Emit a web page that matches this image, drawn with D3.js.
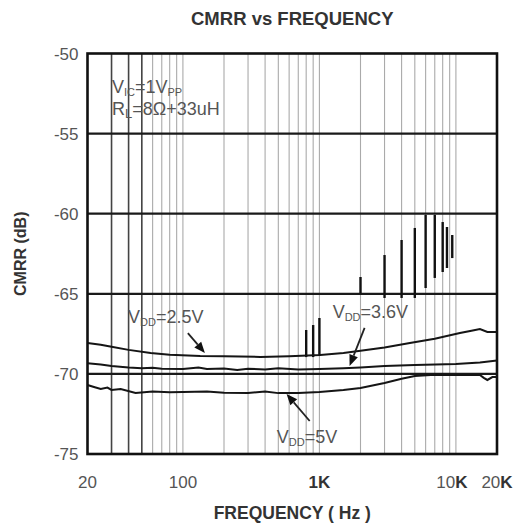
<!DOCTYPE html>
<html>
<head>
<meta charset="utf-8">
<script src="https://cdn.jsdelivr.net/npm/d3@7"></script>
<style>
  html, body { margin: 0; padding: 0; background: #fff; }
  svg { display: block; font-family: "Liberation Sans", Arial, sans-serif; }
</style>
</head>
<body>
<svg id="chart" width="518" height="530"></svg>
<script>
// ---- data ----
const xDomain = [20, 20000];
const yDomain = [-75, -50];
const xTickValues = [20, 100, 1000, 10000, 20000];
const xTickNums = ["20", "100", "1", "10", "20"];
const xTickSuffix = ["", "", "K", "K", "K"];
const yTickValues = [-50, -55, -60, -65, -70, -75];
const yGridValues = [-55, -60, -65, -70];
const darkGridFreqs = [30, 40, 50];

const vdd25 = [[20,-68.07],[25,-68.18],[30,-68.3],[40,-68.5],[58,-68.7],[80,-68.8],[134,-68.88],[200,-68.9],[369,-68.94],[600,-68.9],[1013,-68.82],[1500,-68.7],[2000,-68.55],[3000,-68.35],[4600,-68.07],[7000,-67.8],[10700,-67.45],[13000,-67.3],[15000,-67.2],[17000,-67.38],[20000,-67.38]];
const vdd36 = [[20,-69.33],[25,-69.42],[30,-69.51],[40,-69.6],[50,-69.64],[60,-69.62],[70,-69.68],[100,-69.7],[130,-69.6],[150,-69.7],[200,-69.66],[250,-69.75],[300,-69.68],[400,-69.72],[500,-69.65],[700,-69.72],[1000,-69.7],[1500,-69.65],[2000,-69.6],[3000,-69.51],[5000,-69.44],[10000,-69.38],[15000,-69.29],[20000,-69.16]];
const vdd5 = [[20,-70.69],[22,-70.8],[25,-70.94],[28,-70.85],[30,-71.0],[35,-70.95],[45,-71.19],[60,-71.1],[80,-71.15],[100,-71.13],[150,-71.1],[200,-71.18],[300,-71.19],[400,-71.1],[500,-71.2],[700,-71.19],[1000,-71.13],[1500,-71.0],[2000,-70.88],[3000,-70.57],[4000,-70.3],[5000,-70.13],[7000,-70.05],[10000,-70.07],[15000,-70.07],[16000,-70.25],[17000,-70.38],[18500,-70.2],[20000,-70.19]];

// spikes: [freq, top dB, bottom dB]
const spikes = [[800,-67.26,-68.95],[900,-66.95,-68.95],[1000,-66.51,-68.88],[2000,-63.95,-64.98],[3000,-62.58,-65.26],[4000,-61.64,-65.26],[5000,-60.89,-65.26],[6000,-60.08,-64.64],[7000,-60.08,-64.01],[8000,-60.52,-63.64],[8600,-60.83,-63.39],[9400,-61.33,-62.77]];

// annotations
const curveLabels = [
  {f: 39.6, db: -66.82, sub: "DD", rest: "=2.5V"},
  {f: 1250, db: -66.51, sub: "DD", rest: "=3.6V"},
  {f: 487, db: -74.31, sub: "DD", rest: "=5V"}
];
const arrows = [
  {f1: 108.7, d1: -67.45, f2: 144.9, d2: -68.7},
  {f1: 2143, d1: -67.13, f2: 1664, d2: -69.5},
  {f1: 849, d1: -72.94, f2: 575, d2: -71.25}
];
const condPos = {f: 30.2, db1: -52.47, db2: -53.84};

// ---- layout ----
const margin = {left: 87.5, right: 21, top: 53.5, bottom: 76};
const W = 518, H = 530;
const svg = d3.select("#chart");
const x = d3.scaleLog().domain(xDomain).range([margin.left, W - margin.right]);
const y = d3.scaleLinear().domain(yDomain).range([H - margin.bottom, margin.top]);

// vertical grid
const vTicks = x.ticks().filter(t => t > 20 && t < 20000);
svg.append("g").selectAll("line").data(vTicks).join("line")
  .attr("x1", d => x(d)).attr("x2", d => x(d))
  .attr("y1", y(-50)).attr("y2", y(-75))
  .attr("stroke", d => darkGridFreqs.includes(d) ? "#444" : "#aaa")
  .attr("stroke-width", d => darkGridFreqs.includes(d) ? 1.6 : 1.1);

// horizontal grid
svg.append("g").selectAll("line").data(yGridValues).join("line")
  .attr("x1", x(20)).attr("x2", x(20000))
  .attr("y1", d => y(d)).attr("y2", d => y(d))
  .attr("stroke", "#1a1a1a").attr("stroke-width", 2.2);

// spikes
svg.append("g").selectAll("line").data(spikes).join("line")
  .attr("x1", d => x(d[0])).attr("x2", d => x(d[0]))
  .attr("y1", d => y(d[1])).attr("y2", d => y(d[2]))
  .attr("stroke", "#111").attr("stroke-width", 2.4);

// curves
const line = d3.line().x(d => x(d[0])).y(d => y(d[1]));
[vdd25, vdd36, vdd5].forEach(s => {
  svg.append("path").datum(s).attr("d", line)
    .attr("fill", "none").attr("stroke", "#151515").attr("stroke-width", 2);
});

// frame
svg.append("rect")
  .attr("x", x(20)).attr("y", y(-50))
  .attr("width", x(20000) - x(20)).attr("height", y(-75) - y(-50))
  .attr("fill", "none").attr("stroke", "#111").attr("stroke-width", 2.6);

// y tick labels
svg.append("g").selectAll("text").data(yTickValues).join("text")
  .attr("x", x(20) - 9).attr("y", d => y(d) + 6)
  .attr("text-anchor", "end").attr("font-size", 17).attr("fill", "#555")
  .text(d => d);

// x tick labels
const xt = svg.append("g").selectAll("text").data(xTickValues).join("text")
  .attr("x", (d, i) => x(d) + (i === 3 ? -4 : 0)).attr("y", 488)
  .attr("text-anchor", "middle").attr("font-size", 17).attr("fill", "#555");
xt.append("tspan").text((d, i) => xTickNums[i])
  .attr("font-weight", (d, i) => i === 2 ? "bold" : "normal")
  .attr("fill", (d, i) => i === 2 ? "#333" : "#555");
xt.append("tspan").text((d, i) => xTickSuffix[i]).attr("font-weight", "bold").attr("fill", "#333");

// titles
svg.append("text").attr("x", (x(20) + x(20000)) / 2).attr("y", 25)
  .attr("text-anchor", "middle").attr("font-size", 18.5).attr("font-weight", "bold")
  .attr("fill", "#333").text("CMRR vs FREQUENCY");
svg.append("text").attr("x", (x(20) + x(20000)) / 2).attr("y", 519)
  .attr("text-anchor", "middle").attr("font-size", 17.5).attr("font-weight", "bold")
  .attr("fill", "#333").text("FREQUENCY ( Hz )");
svg.append("text")
  .attr("transform", `translate(26,${(y(-50) + y(-75)) / 2}) rotate(-90)`)
  .attr("text-anchor", "middle").attr("font-size", 16).attr("font-weight", "bold")
  .attr("fill", "#333").text("CMRR (dB)");

// condition annotation
const c1 = svg.append("text").attr("x", x(condPos.f)).attr("y", y(condPos.db1))
  .attr("font-size", 18).attr("fill", "#555");
c1.append("tspan").text("V");
c1.append("tspan").text("IC").attr("font-size", 11).attr("dy", 3);
c1.append("tspan").text("=1V").attr("dy", -3);
c1.append("tspan").text("PP").attr("font-size", 11).attr("dy", 3);
const c2 = svg.append("text").attr("x", x(condPos.f)).attr("y", y(condPos.db2))
  .attr("font-size", 18).attr("fill", "#555");
c2.append("tspan").text("R");
c2.append("tspan").text("L").attr("font-size", 13).attr("dy", 3);
c2.append("tspan").text("=8Ω+33uH").attr("dy", -3);

// curve labels
curveLabels.forEach(l => {
  const t = svg.append("text").attr("x", x(l.f)).attr("y", y(l.db))
    .attr("font-size", 18).attr("fill", "#555");
  t.append("tspan").text("V");
  t.append("tspan").text(l.sub).attr("font-size", 11).attr("dy", 3);
  t.append("tspan").text(l.rest).attr("dy", -3);
});

// arrows
arrows.forEach(a => {
  const x1 = x(a.f1), y1 = y(a.d1), x2 = x(a.f2), y2 = y(a.d2);
  const ang = Math.atan2(y2 - y1, x2 - x1);
  const L = 11, Wd = 4.5;
  const bx = x2 - L * Math.cos(ang), by = y2 - L * Math.sin(ang);
  svg.append("line").attr("x1", x1).attr("y1", y1).attr("x2", bx).attr("y2", by)
    .attr("stroke", "#222").attr("stroke-width", 1.8);
  const px = -Math.sin(ang) * Wd, py = Math.cos(ang) * Wd;
  svg.append("path")
    .attr("d", `M${x2},${y2}L${bx + px},${by + py}L${bx - px},${by - py}Z`)
    .attr("fill", "#111");
});
</script>
</body>
</html>
